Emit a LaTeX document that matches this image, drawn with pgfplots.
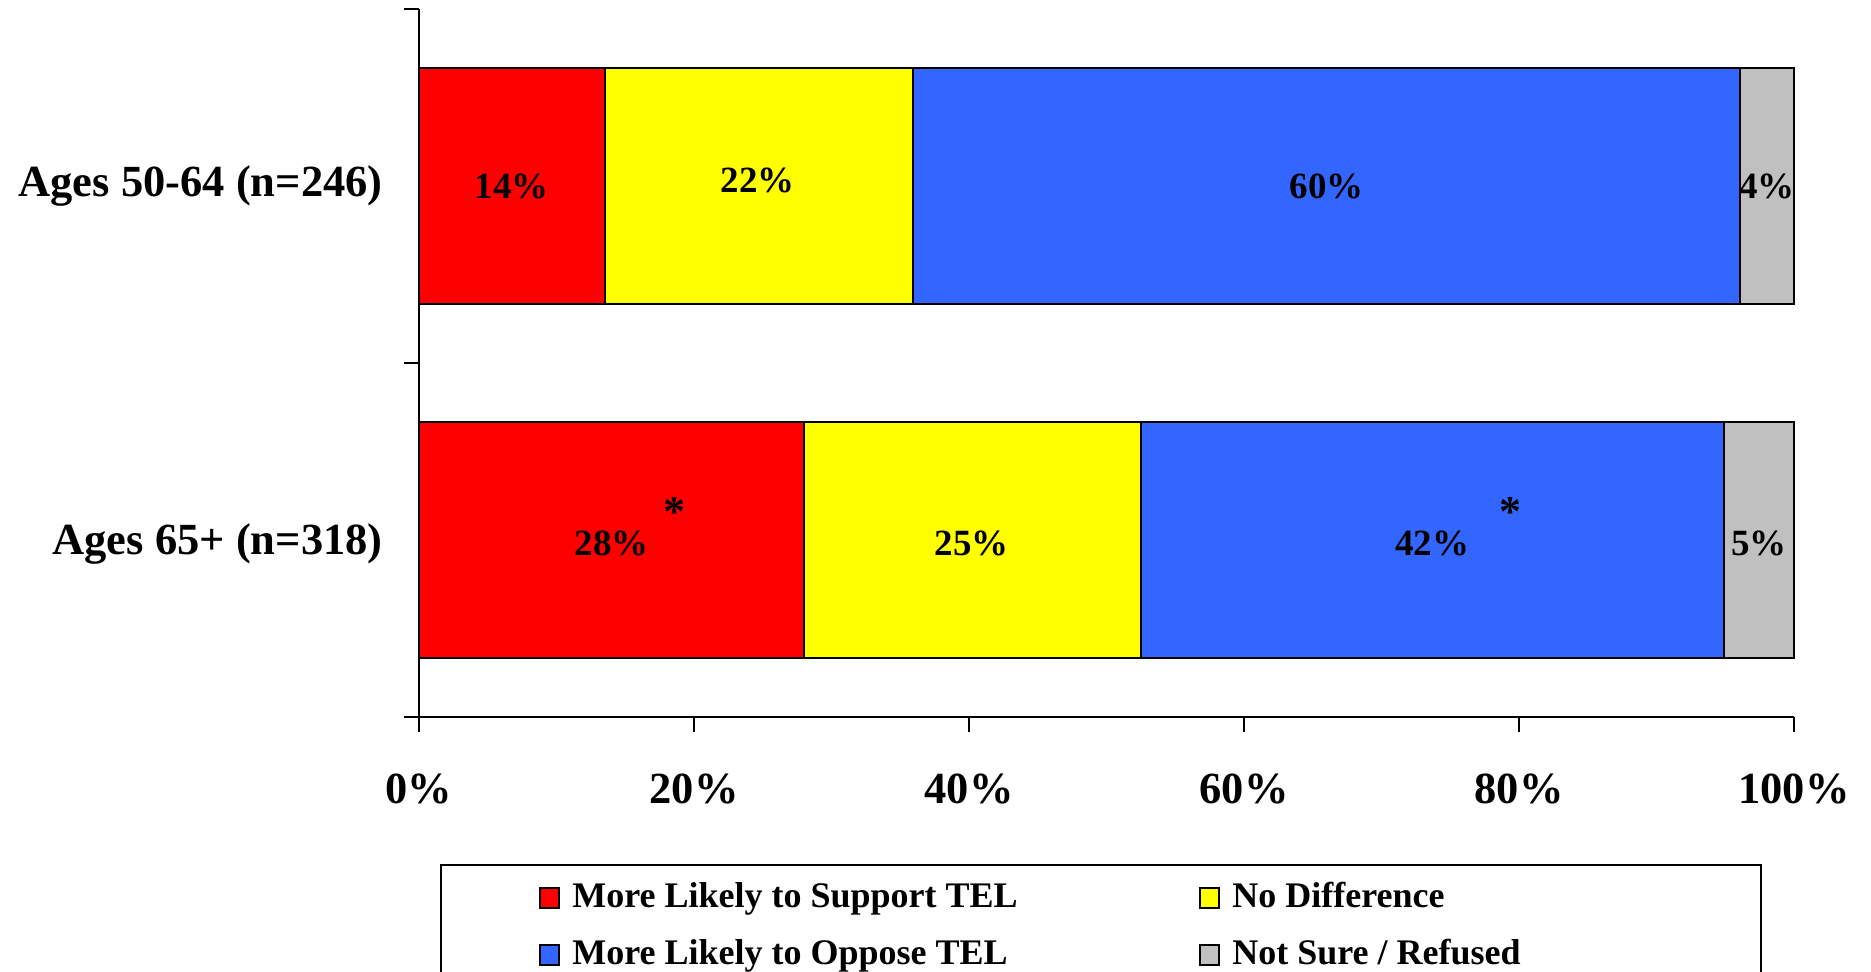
\documentclass[border=0pt]{standalone}
\usepackage{fontspec}
\setmainfont{Liberation Serif}
\usepackage{pgfplots}
\pgfplotsset{compat=1.18}
\definecolor{cred}{HTML}{FF0000}
\definecolor{cyellow}{HTML}{FFFF00}
\definecolor{cblue}{HTML}{3366FF}
\definecolor{cgray}{HTML}{C0C0C0}
\newcommand{\lblfont}{\fontsize{18.5}{21}\selectfont\bfseries}
\newcommand{\tickfont}{\fontsize{22.25}{26}\selectfont\bfseries}
\begin{document}
\begin{tikzpicture}
\begin{axis}[
  scale only axis, width=687.5pt, height=353.75pt,
  xmin=0, xmax=100, ymin=0, ymax=2,
  xbar stacked, bar width=0.667,
  axis x line*=bottom, axis y line*=left,
  axis line style={line width=1pt, black},
  xtick={0,20,40,60,80,100},
  xticklabels={0\%,20\%,40\%,60\%,80\%,100\%},
  ytick={0,1,2}, yticklabels={},
  tick align=outside, major tick length=7.5pt,
  tick style={line width=1pt, black},
  xticklabel style={font=\tickfont, anchor=base, yshift=-35.5pt},
  clip=false,
  legend columns=2,
  legend cell align=left,
  legend image code/.code={\draw[#1, draw=black, line width=1pt] (0pt,-5pt) rectangle (9.5pt,5pt);},
  legend style={draw=none, fill=none, inner sep=0pt,
    at={(axis description cs:0.08727,-0.2318)}, anchor=north west,
    font=\fontsize{18}{21}\selectfont\bfseries, row sep=11.5pt,
    nodes={inner sep=0pt, text height=13pt, text depth=4pt},
    /tikz/every odd column/.append style={column sep=6pt},
    /tikz/every even column/.append style={column sep=0pt}},
]
\addplot[fill=cred, draw=black, line width=1pt] coordinates {(13.5,1.5) (28.0,0.5)};
\addlegendentry{\makebox[313.5pt][l]{More Likely to Support TEL}}
\addplot[fill=cyellow, draw=black, line width=1pt] coordinates {(22.4,1.5) (24.5,0.5)};
\addlegendentry{No Difference}
\addplot[fill=cblue, draw=black, line width=1pt] coordinates {(60.2,1.5) (42.4,0.5)};
\addlegendentry{\makebox[313.5pt][l]{More Likely to Oppose TEL}}
\addplot[fill=cgray, draw=black, line width=1pt] coordinates {(3.9,1.5) (5.1,0.5)};
\addlegendentry{Not Sure / Refused}

\coordinate (a1) at (axis cs:6.75,1.5);
\coordinate (a2) at (axis cs:24.65,1.518);
\coordinate (a3) at (axis cs:66.0,1.5);
\coordinate (a4) at (axis cs:98.05,1.5);
\coordinate (b1) at (axis cs:14.0,0.49);
\coordinate (b2) at (axis cs:40.2,0.49);
\coordinate (b3) at (axis cs:73.7,0.49);
\coordinate (b4) at (axis cs:97.45,0.49);
\coordinate (s1) at (axis cs:18.6,0.58);
\coordinate (s2) at (axis cs:79.4,0.58);

\node[font=\tickfont, anchor=east, inner sep=0pt] at ([xshift=-18pt]axis cs:0,1.5) {Ages 50-64 (n=246)};
\node[font=\tickfont, anchor=east, inner sep=0pt] at ([xshift=-18pt]axis cs:0,0.49) {Ages 65+ (n=318)};

\draw[line width=1pt] (axis description cs:0.016,-0.20919) rectangle (axis description cs:0.976,-0.45);
\end{axis}
\node[font=\lblfont] at (a1) {14\%};
\node[font=\lblfont] at (a2) {22\%};
\node[font=\lblfont] at (a3) {60\%};
\node[font=\lblfont] at (a4) {4\%};
\node[font=\lblfont] at (b1) {28\%};
\node[font=\lblfont] at (b2) {25\%};
\node[font=\lblfont] at (b3) {42\%};
\node[font=\lblfont] at (b4) {5\%};
\node[font=\fontsize{22}{24}\selectfont\bfseries] at (s1) {*};
\node[font=\fontsize{22}{24}\selectfont\bfseries] at (s2) {*};
\pgfresetboundingbox
\useasboundingbox (-209.5pt,-127.5pt) rectangle (726pt,358.5pt);
\end{tikzpicture}
\end{document}
